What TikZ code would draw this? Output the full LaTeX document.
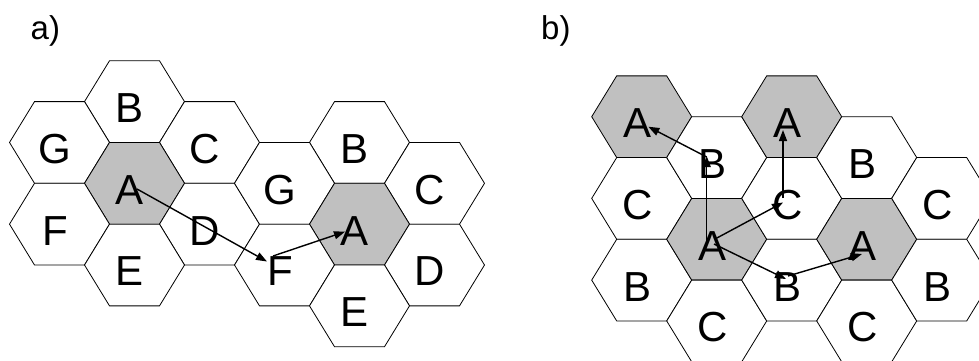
\documentclass[tikz,border=0pt]{standalone}
\usepackage{fontspec}
\setmainfont{Liberation Sans}
\usetikzlibrary{arrows.meta}
\definecolor{cellgray}{HTML}{C0C0C0}
\tikzset{
  hexst/.style={draw=black, line width=0.8pt, line join=miter},
  lab/.style={inner sep=0pt, font=\fontsize{42}{42}\selectfont},
  panlab/.style={inner sep=0pt, anchor=base west, font=\fontsize{33}{33}\selectfont},
  arr/.style={draw=black, line width=1.4pt, -{Triangle[length=11pt,width=8pt]}}
}
\newcommand{\hexcell}[5]{%
  \draw[hexst, fill=#4, shift={(#2,#3)}] (50,0) -- (25,40.85) -- (-25,40.85) -- (-50,0) -- (-25,-40.85) -- (25,-40.85) -- cycle;
  \node[lab] (#1) at (#2-4.5,#3+6.5) {#5};
}
\begin{document}
\begin{tikzpicture}[x=1pt,y=-1pt]
\useasboundingbox (0,0) rectangle (979,360);
\clip (0,0) rectangle (979,360);
% panel a
\node[panlab] (la) at (30.5,39.3) {a)};
\hexcell{aB}{134.5}{101.6}{white}{B}
\hexcell{aG}{59.5}{142.45}{white}{G}
\hexcell{aC}{209.5}{142.45}{white}{C}
\hexcell{aA}{134.5}{183.3}{cellgray}{A}
\hexcell{aF}{59.5}{224.15}{white}{F}
\hexcell{aD}{209.5}{224.15}{white}{D}
\hexcell{aE}{134.5}{265}{white}{E}
\hexcell{bB}{359.5}{142.45}{white}{B}
\hexcell{bG}{284.5}{183.3}{white}{G}
\hexcell{bC}{434.5}{183.3}{white}{C}
\hexcell{bA}{359.5}{224.15}{cellgray}{A}
\hexcell{bF}{284.5}{265}{white}{F}
\hexcell{bD}{434.5}{265}{white}{D}
\hexcell{bE}{359.5}{305.85}{white}{E}
\coordinate (pa1) at (137,189);
\coordinate (pa2) at (267,261.5);
\coordinate (pa3) at (273,256);
\coordinate (pa4) at (345,231.7);
\draw[arr] (pa1) -- (pa2);
\draw[arr] (pa3) -- (pa4);
% panel b
\node[panlab] (lb) at (541,39.3) {b)};
\hexcell{c00}{641.7}{116.7}{cellgray}{A}
\hexcell{c01}{641.7}{198.4}{white}{C}
\hexcell{c02}{641.7}{280.1}{white}{B}
\hexcell{c10}{716.7}{157.55}{white}{B}
\hexcell{c11}{716.7}{239.25}{cellgray}{A}
\hexcell{c12}{716.7}{320.95}{white}{C}
\hexcell{c20}{791.7}{116.7}{cellgray}{A}
\hexcell{c21}{791.7}{198.4}{white}{C}
\hexcell{c22}{791.7}{280.1}{white}{B}
\hexcell{c30}{866.7}{157.55}{white}{B}
\hexcell{c31}{866.7}{239.25}{cellgray}{A}
\hexcell{c32}{866.7}{320.95}{white}{C}
\hexcell{c40}{941.7}{198.4}{white}{C}
\hexcell{c41}{941.7}{280.1}{white}{B}
\coordinate (pb1) at (706.7,243);
\coordinate (pb2) at (706.7,156);
\coordinate (pb3) at (706.7,157);
\coordinate (pb4) at (648.3,126.7);
\coordinate (pb5) at (715,239);
\coordinate (pb6) at (783,202.5);
\coordinate (pb7) at (783,198);
\coordinate (pb8) at (783,130);
\coordinate (pb9) at (714,244);
\coordinate (pb10) at (786,279);
\coordinate (pb11) at (788,276);
\coordinate (pb12) at (862,254);
\draw[arr] (pb1) -- (pb2);
\draw[arr] (pb3) -- (pb4);
\draw[arr] (pb5) -- (pb6);
\draw[arr] (pb7) -- (pb8);
\draw[arr] (pb9) -- (pb10);
\draw[arr] (pb11) -- (pb12);
\end{tikzpicture}
\end{document}
